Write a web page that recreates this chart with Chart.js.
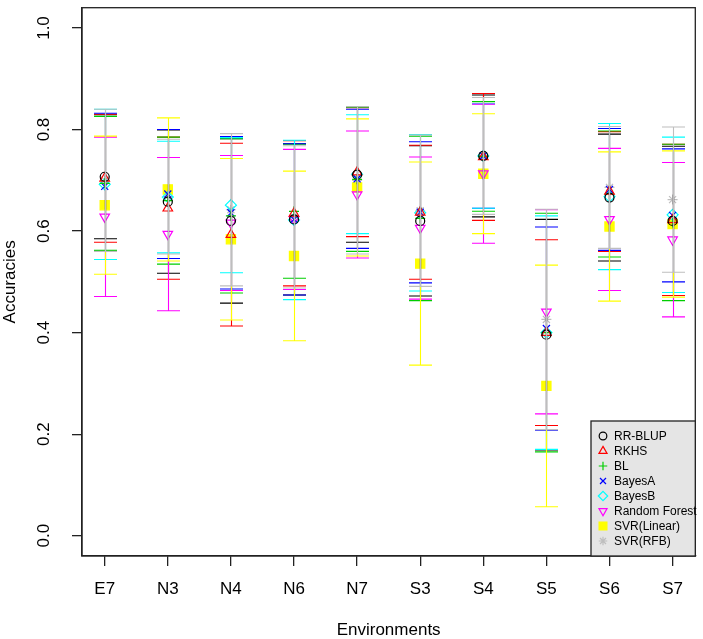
<!DOCTYPE html>
<html>
<head>
<meta charset="utf-8">
<script src="https://cdn.jsdelivr.net/npm/chart.js@4"></script>
<style>
  html, body { margin: 0; padding: 0; background: #fff; }
</style>
</head>
<body>
<canvas id="chart" width="703" height="639"></canvas>
<script>
// environments on the x axis
const envs = ["E7", "N3", "N4", "N6", "N7", "S3", "S4", "S5", "S6", "S7"];
const yTicks = [0, 0.2, 0.4, 0.6, 0.8, 1.0];

// mean accuracy and its spread (bar = mean +/- sd) per method
const rrblupMean = [0.707, 0.658, 0.620, 0.623, 0.711, 0.620, 0.748, 0.396, 0.666, 0.620];
const rrblupSd   = [0.122, 0.141, 0.162, 0.149, 0.133, 0.148, 0.120, 0.227, 0.125, 0.147];
const rkhsMean   = [0.704, 0.645, 0.593, 0.635, 0.716, 0.637, 0.746, 0.400, 0.678, 0.622];
const rkhsSd     = [0.126, 0.140, 0.180, 0.143, 0.127, 0.132, 0.125, 0.183, 0.118, 0.149];
const blMean     = [0.694, 0.660, 0.630, 0.639, 0.702, 0.625, 0.747, 0.400, 0.673, 0.617];
const blSd       = [0.132, 0.125, 0.152, 0.132, 0.142, 0.162, 0.108, 0.235, 0.124, 0.154];
const bayesAMean = [0.688, 0.673, 0.636, 0.623, 0.703, 0.637, 0.748, 0.408, 0.682, 0.631];
const bayesASd   = [0.144, 0.127, 0.150, 0.149, 0.137, 0.139, 0.103, 0.200, 0.120, 0.131];
const bayesBMean = [0.692, 0.667, 0.651, 0.622, 0.712, 0.636, 0.748, 0.400, 0.668, 0.632];
const bayesBSd   = [0.148, 0.110, 0.133, 0.157, 0.117, 0.154, 0.103, 0.230, 0.144, 0.153];
const rfMean     = [0.628, 0.594, 0.616, 0.623, 0.672, 0.606, 0.713, 0.441, 0.623, 0.583];
const rfSd       = [0.157, 0.151, 0.133, 0.138, 0.125, 0.140, 0.137, 0.201, 0.140, 0.152];
const svrLinMean = [0.651, 0.682, 0.584, 0.551, 0.686, 0.536, 0.713, 0.295, 0.609, 0.614];
const svrLinSd   = [0.136, 0.141, 0.159, 0.167, 0.135, 0.200, 0.118, 0.238, 0.147, 0.144];
const svrRbfMean = [0.700, 0.668, 0.642, 0.628, 0.700, 0.640, 0.748, 0.426, 0.686, 0.662];
const svrRbfSd   = [0.140, 0.113, 0.150, 0.140, 0.145, 0.149, 0.115, 0.217, 0.120, 0.143];

const FONT = "'Liberation Sans', Arial, Helvetica, sans-serif";

const series = [
  { label: "RR-BLUP",       mean: rrblupMean, sd: rrblupSd, color: "#000000", style: "circle",   r: 4.5, fill: false },
  { label: "RKHS",          mean: rkhsMean,   sd: rkhsSd,   color: "#FF0000", style: "triangle", r: 5.5, fill: false },
  { label: "BL",            mean: blMean,     sd: blSd,     color: "#00CD00", style: "cross",    r: 5,   fill: false },
  { label: "BayesA",        mean: bayesAMean, sd: bayesASd, color: "#0000FF", style: "crossRot", r: 5,   fill: false },
  { label: "BayesB",        mean: bayesBMean, sd: bayesBSd, color: "#00FFFF", style: "rectRot",  r: 5.5, fill: false },
  { label: "Random Forest", mean: rfMean,     sd: rfSd,     color: "#FF00FF", style: "triangle", r: 5.5, fill: false, rot: 180 },
  { label: "SVR(Linear)",   mean: svrLinMean, sd: svrLinSd, color: "#FFFF00", style: "rect",     r: 6.5, fill: true },
  { label: "SVR(RFB)",      mean: svrRbfMean, sd: svrRbfSd, color: "#BEBEBE", style: "star",     r: 5,   fill: false }
];

// error bars, drawn in method order so the grey one ends on top
const errorBars = {
  id: "errorBars",
  afterDatasetsDraw(chart) {
    const { ctx, scales: { x, y } } = chart;
    ctx.save();
    ctx.lineWidth = 1.1;
    series.forEach(s => {
      ctx.strokeStyle = s.color;
      s.mean.forEach((m, i) => {
        const px = Math.round(x.getPixelForValue(i)) + 0.5;
        const lo = y.getPixelForValue(m - s.sd[i]);
        const hi = y.getPixelForValue(m + s.sd[i]);
        ctx.beginPath();
        ctx.moveTo(px, lo); ctx.lineTo(px, hi);
        ctx.moveTo(px - 11.5, lo); ctx.lineTo(px + 11.5, lo);
        ctx.moveTo(px - 11.5, hi); ctx.lineTo(px + 11.5, hi);
        ctx.stroke();
      });
    });
    ctx.restore();
  }
};

// box, rotated y labels and the legend in the corner
const frame = {
  id: "frame",
  afterDraw(chart) {
    const { ctx, chartArea: a, scales: { y } } = chart;
    ctx.save();
    ctx.strokeStyle = "#222";
    ctx.lineWidth = 1.3;
    ctx.strokeRect(a.left, a.top, a.right - a.left, a.bottom - a.top);

    ctx.fillStyle = "#000";
    ctx.font = "17px " + FONT;
    ctx.textAlign = "center";
    ctx.textBaseline = "middle";
    yTicks.forEach(v => {
      ctx.save();
      ctx.translate(44, y.getPixelForValue(v));
      ctx.rotate(-Math.PI / 2);
      ctx.fillText(v.toFixed(1), 0, 0);
      ctx.restore();
    });

    const lx = 591, ly = 421, lw = a.right - lx, lh = a.bottom - ly;
    ctx.fillStyle = "#E5E5E5";
    ctx.fillRect(lx, ly, lw, lh);
    ctx.strokeRect(lx, ly, lw, lh);
    ctx.font = "12px " + FONT;
    ctx.textAlign = "left";
    series.forEach((s, k) => {
      const ry = 436 + k * 15;
      ctx.strokeStyle = s.color;
      ctx.fillStyle = s.fill ? s.color : "rgba(0,0,0,0)";
      ctx.lineWidth = 1.2;
      Chart.helpers.drawPoint(ctx, { pointStyle: s.style, radius: s.r * 0.85, rotation: s.rot || 0, borderWidth: 1.2 }, 603, ry);
      ctx.fillStyle = "#000";
      ctx.fillText(s.label, 614, ry + 1);
    });
    ctx.restore();
  }
};

new Chart(document.getElementById("chart"), {
  type: "scatter",
  data: {
    datasets: series.map(s => ({
      label: s.label,
      data: s.mean.map((m, i) => ({ x: i, y: m })),
      pointStyle: s.style,
      pointRadius: s.r,
      pointRotation: s.rot || 0,
      pointBorderWidth: 1.2,
      borderColor: s.color,
      backgroundColor: s.fill ? s.color : "rgba(0,0,0,0)"
    }))
  },
  options: {
    responsive: false,
    animation: false,
    layout: { padding: { top: 1, right: 1, left: 0, bottom: 0 } },
    plugins: { legend: { display: false }, tooltip: { enabled: false } },
    scales: {
      x: {
        type: "linear",
        min: -0.36,
        max: 9.36,
        afterBuildTicks: sc => { sc.ticks = envs.map((_, i) => ({ value: i })); },
        afterFit: sc => { sc.height = 83; },
        ticks: {
          autoSkip: false, maxRotation: 0, padding: 13,
          color: "#000", font: { family: FONT, size: 17 },
          callback: v => envs[v]
        },
        grid: { drawOnChartArea: false, tickLength: 10, color: "#222", lineWidth: 1.3 },
        border: { color: "#222", width: 1.3 },
        title: { display: true, text: "Environments", color: "#000", padding: 0,
                 font: { family: FONT, size: 17, lineHeight: 1 } }
      },
      y: {
        min: -0.04,
        max: 1.04,
        afterBuildTicks: sc => { sc.ticks = yTicks.map(v => ({ value: v })); },
        afterFit: sc => { sc.width = 82; },
        ticks: { display: false },
        grid: { drawOnChartArea: false, tickLength: 10, color: "#222", lineWidth: 1.3 },
        border: { color: "#222", width: 1.3 },
        title: { display: true, text: "Accuracies", color: "#000", padding: 2,
                 font: { family: FONT, size: 17, lineHeight: 1 } }
      }
    }
  },
  plugins: [errorBars, frame]
});
</script>
</body>
</html>
